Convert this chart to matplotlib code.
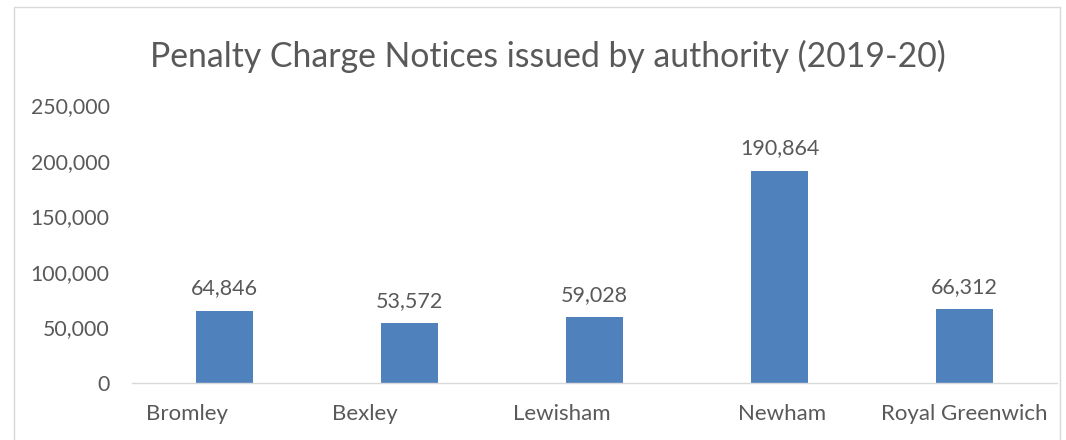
import matplotlib.pyplot as plt
from matplotlib.ticker import FuncFormatter
import matplotlib.transforms as mtransforms
from matplotlib.patches import Rectangle

authorities = ["Bromley", "Bexley", "Lewisham", "Newham", "Royal Greenwich"]
pcns = [64846, 53572, 59028, 190864, 66312]
yticks = [0, 50000, 100000, 150000, 200000, 250000]

# label nudges in pixels (the source draws category labels slightly off-centre)
label_dx = [-38, -45, -33, 3, 0]

BAR = "#4F81BD"
TXT = "#595959"
GRID = "#D9D9D9"

plt.rcParams["font.family"] = ["Lato", "DejaVu Sans"]

fig = plt.figure(figsize=(10.66, 4.4), dpi=100)
fig.patches.append(Rectangle((14 / 1066, -0.01), (1060 - 14) / 1066, 1 - 7 / 440 + 0.01,
                             transform=fig.transFigure, fill=False,
                             edgecolor=GRID, linewidth=1.0))

ax = fig.add_axes([132 / 1066, 1 - 383 / 440, 925 / 1066, 278 / 440])
x = range(len(authorities))
bars = ax.bar(x, pcns, width=0.31, color=BAR, zorder=2)
ax.bar_label(bars, labels=[f"{v:,}" for v in pcns], padding=9,
             fontsize=15.5, color=TXT)

ax.set_xlim(-0.5, len(authorities) - 0.5)
ax.set_ylim(0, 250000)
ax.set_yticks(yticks)
ax.yaxis.set_major_formatter(FuncFormatter(lambda v, p: f"{int(v):,}"))
ax.tick_params(axis="y", length=0, pad=16, labelsize=15.3, labelcolor=TXT)
ax.set_xticks([])

for i, name in enumerate(authorities):
    off = mtransforms.ScaledTranslation(label_dx[i] / 100, -21 / 100, fig.dpi_scale_trans)
    ax.text(i, 0, name, transform=ax.get_xaxis_transform() + off,
            ha="center", va="top", fontsize=16, color=TXT)

for s in ["top", "right", "left"]:
    ax.spines[s].set_visible(False)
ax.spines["bottom"].set_color(GRID)
ax.spines["bottom"].set_linewidth(1.0)

fig.text(548 / 1066, 1 - 56 / 440, "Penalty Charge Notices issued by authority (2019-20)",
         ha="center", va="center", fontsize=24.3, color=TXT)

fig.savefig("out.png", dpi=100)
